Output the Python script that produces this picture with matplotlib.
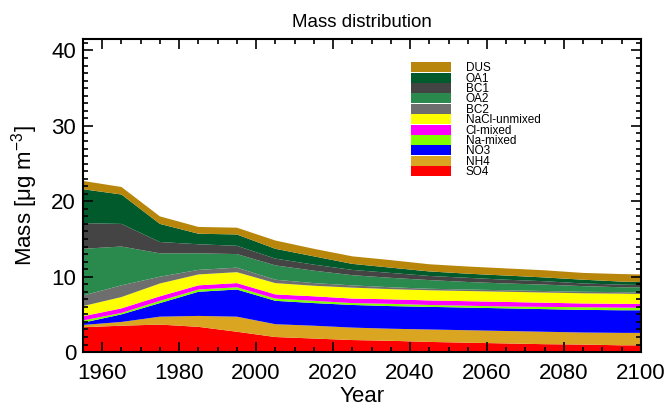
import matplotlib
matplotlib.use('Agg')
import matplotlib.pyplot as plt
import numpy as np

plt.rcParams['font.family'] = ['Liberation Sans', 'DejaVu Sans']
plt.rcParams['mathtext.fontset'] = 'custom'
plt.rcParams['mathtext.rm'] = 'Liberation Sans'

years = [1955, 1965, 1975, 1985, 1995, 2005, 2015, 2025, 2035, 2045,
         2055, 2065, 2075, 2085, 2095, 2100]

# layer masses (ug m-3), bottom to top
so4 = [3.3, 3.5, 3.65, 3.35, 2.7, 2.0, 1.8, 1.6, 1.5, 1.35, 1.25, 1.15, 1.05, 1.0, 0.9, 0.9]
nh4 = [0.3, 0.5, 1.05, 1.45, 2.0, 1.7, 1.7, 1.65, 1.6, 1.65, 1.65, 1.65, 1.65, 1.6, 1.65, 1.65]
no3 = [0.3, 1.0, 1.8, 3.2, 3.6, 3.1, 3.0, 3.0, 3.0, 3.0, 3.0, 3.0, 3.0, 3.0, 3.0, 3.0]
na_mixed = [0.3, 0.2, 0.3, 0.3, 0.3, 0.3, 0.3, 0.25, 0.3, 0.25, 0.25, 0.25, 0.3, 0.35, 0.35, 0.35]
cl_mixed = [0.55, 0.6, 0.6, 0.55, 0.55, 0.55, 0.6, 0.6, 0.6, 0.6, 0.6, 0.6, 0.55, 0.5, 0.5, 0.5]
nacl = [1.35, 1.5, 1.7, 1.45, 1.45, 1.5, 1.4, 1.45, 1.35, 1.35, 1.35, 1.35, 1.35, 1.35, 1.35, 1.3]
bc2 = [1.4, 1.55, 0.9, 0.6, 0.6, 0.45, 0.35, 0.3, 0.25, 0.2, 0.2, 0.2, 0.2, 0.2, 0.2, 0.2]
oa2 = [6.2, 5.15, 3.1, 2.2, 1.8, 1.9, 1.65, 1.35, 1.25, 1.15, 1.0, 0.9, 0.85, 0.75, 0.65, 0.7]
bc1 = [3.4, 3.0, 1.5, 1.2, 1.1, 0.9, 0.8, 0.7, 0.65, 0.55, 0.55, 0.5, 0.45, 0.35, 0.35, 0.3]
oa1 = [4.5, 3.9, 2.4, 1.4, 1.5, 1.3, 1.1, 0.8, 0.7, 0.6, 0.55, 0.55, 0.5, 0.5, 0.4, 0.4]
dus = [1.1, 1.0, 1.0, 0.9, 0.9, 1.1, 1.0, 1.0, 1.0, 0.95, 0.95, 0.95, 0.95, 0.9, 1.0, 1.0]

labels = ['SO4', 'NH4', 'NO3', 'Na-mixed', 'Cl-mixed', 'NaCl-unmixed',
          'BC2', 'OA2', 'BC1', 'OA1', 'DUS']
colors = ['#ff0000', '#daa520', '#0000ff', '#80ff00', '#ff00ff', '#ffff00',
          '#6e6e6e', '#2a8a4e', '#444444', '#005a2c', '#b8860b']

fig = plt.figure(figsize=(6.69, 4.08), dpi=100)
ax = fig.add_axes([0.124, 0.137, 0.834, 0.767])

polys = ax.stackplot(years, so4, nh4, no3, na_mixed, cl_mixed, nacl,
                     bc2, oa2, bc1, oa1, dus, colors=colors, labels=labels,
                     linewidth=0)

ax.set_xlim(1955, 2100)
ax.set_ylim(0, 41.5)
ax.set_xticks(np.arange(1960, 2101, 20))
ax.set_yticks([0, 10, 20, 30, 40])
ax.set_xticks(np.arange(1955, 2101, 5), minor=True)
ax.set_yticks(np.arange(0, 42, 1), minor=True)
ax.tick_params(which='both', direction='in', top=True, right=True,
               labelsize=16, width=1.2)
ax.tick_params(which='major', length=7)
ax.tick_params(which='minor', length=3.5)
ax.tick_params(axis='x', pad=8)
ax.tick_params(axis='y', pad=5)
for s in ax.spines.values():
    s.set_linewidth(1.5)

ax.set_title('Mass distribution', fontsize=13.5, pad=9)
ax.set_xlabel('Year', fontsize=16, labelpad=1)
ax.set_ylabel('Mass [μg m$^{-3}$]', fontsize=16, labelpad=8)

h, l = ax.get_legend_handles_labels()
ax.legend(h[::-1], l[::-1], loc='upper left', bbox_to_anchor=(0.578, 0.945),
          frameon=False, fontsize=8.5, labelspacing=-0.14, handleheight=0.92,
          handlelength=3.4, handletextpad=1.2, borderpad=0)

fig.savefig('out.png', dpi=100)
